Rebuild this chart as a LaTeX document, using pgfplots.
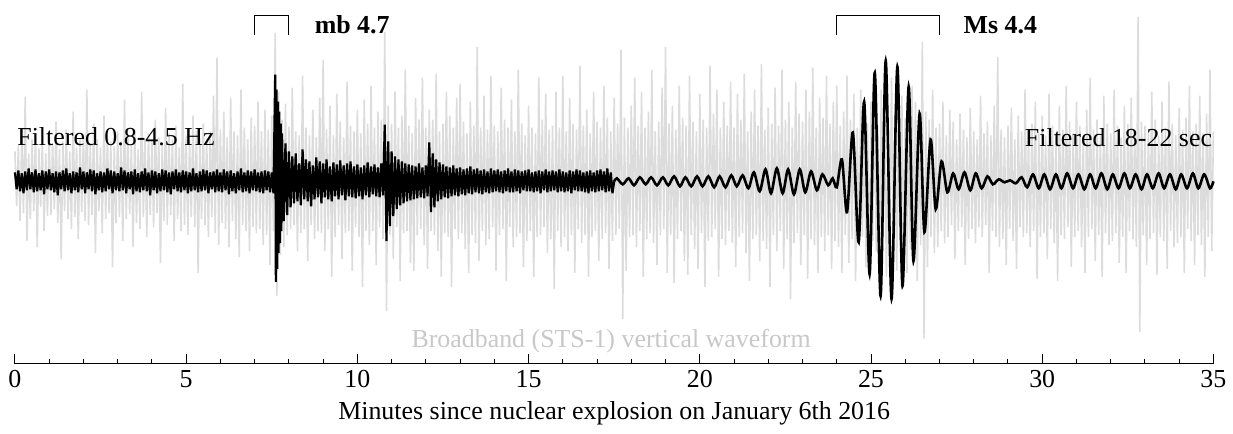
\documentclass[border=0pt]{standalone}
\usepackage{pgfplots}
\pgfplotsset{compat=1.18}
\usepackage{fontspec}
\setmainfont{Liberation Serif}
\definecolor{bbgray}{RGB}{220,220,220}
\definecolor{lblgray}{RGB}{200,200,200}
\begin{document}
\begin{tikzpicture}
\begin{axis}[
  scale only axis,
  width=601.5pt, height=182.5pt,
  xmin=0, xmax=35, ymin=-183, ymax=182,
  axis x line*=bottom, axis y line=none,
  xtick={0,5,...,35}, minor x tick num=4,
  tick align=inside,
  major tick length=5pt, minor tick length=2.3pt,
  tick style={black, line width=0.5pt},
  axis line style={line width=0.6pt},
  /pgf/number format/assume math mode=true,
  ticklabel style={font=\fontsize{13}{15}\selectfont},
  xlabel={Minutes since nuclear explosion on January 6th 2016},
  label style={font=\fontsize{13}{15}\selectfont},
  clip=false,
]
% broadband (STS-1) trace, light gray
\addplot [bbgray, line width=0.8pt, line join=bevel] coordinates {
(0,30)(0.05,-25)(0.1,36)(0.15,-40)(0.2,45)(0.25,-32)(0.3,85)(0.35,-60)(0.4,28)(0.45,-38)(0.5,42)(0.55,-30)(0.6,48)(0.65,-66)(0.7,33)(0.75,-26)(0.8,40)(0.85,-50)(0.9,28)(0.95,-35)
(1,44)(1.05,-34)(1.1,38)(1.15,-28)(1.2,60)(1.25,-42)(1.3,32)(1.35,-78)(1.4,40)(1.45,-30)(1.5,52)(1.55,-38)(1.6,30)(1.65,-48)(1.7,70)(1.75,-36)(1.8,34)(1.85,-58)(1.9,42)(1.95,-31)
(2,46)(2.05,-40)(2.1,92)(2.15,-44)(2.2,36)(2.25,-34)(2.3,58)(2.35,-72)(2.4,42)(2.45,-30)(2.5,34)(2.55,-52)(2.6,66)(2.65,-38)(2.7,46)(2.75,-32)(2.8,40)(2.85,-86)(2.9,35)(2.95,-42)
(3,50)(3.05,-36)(3.1,40)(3.15,-60)(3.2,82)(3.25,-38)(3.3,44)(3.35,-33)(3.4,36)(3.45,-66)(3.5,52)(3.55,-42)(3.6,32)(3.65,-48)(3.7,90)(3.75,-36)(3.8,42)(3.85,-56)(3.9,48)(3.95,-34)
(4,40)(4.05,-46)(4.1,62)(4.15,-32)(4.2,44)(4.25,-82)(4.3,36)(4.35,-40)(4.4,74)(4.45,-44)(4.5,48)(4.55,-34)(4.6,42)(4.65,-60)(4.7,56)(4.75,-38)(4.8,34)(4.85,-50)(4.9,98)(4.95,-44)
(5,46)(5.05,-54)(5.1,40)(5.15,-36)(5.2,66)(5.25,-46)(5.3,50)(5.35,-92)(5.4,42)(5.45,-38)(5.5,58)(5.55,-44)(5.6,42)(5.65,-56)(5.7,50)(5.75,-36)(5.8,86)(5.85,-52)(5.9,124)(5.95,-64)
(6,52)(6.05,-42)(6.1,70)(6.15,-48)(6.2,44)(6.25,-66)(6.3,84)(6.35,-40)(6.4,50)(6.45,-58)(6.5,46)(6.55,-76)(6.6,92)(6.65,-44)(6.7,54)(6.75,-50)(6.8,42)(6.85,-70)(6.9,64)(6.95,-46)
(7,56)(7.05,-52)(7.1,80)(7.15,-48)(7.2,50)(7.25,-64)(7.3,72)(7.35,-54)(7.4,52)(7.45,-84)(7.5,66)(7.55,-50)(7.6,149)(7.65,-115)(7.7,90)(7.75,-74)(7.8,62)(7.85,-66)(7.9,78)(7.95,-54)
(8,55)(8.05,-48)(8.1,94)(8.15,-44)(8.2,50)(8.25,-70)(8.3,46)(8.35,-52)(8.4,106)(8.45,-48)(8.5,54)(8.55,-80)(8.6,46)(8.65,-44)(8.7,72)(8.75,-58)(8.8,44)(8.85,-50)(8.9,84)(8.95,-52)
(9,122)(9.05,-70)(9.1,52)(9.15,-48)(9.2,76)(9.25,-96)(9.3,46)(9.35,-56)(9.4,88)(9.45,-44)(9.5,60)(9.55,-78)(9.6,44)(9.65,-52)(9.7,100)(9.75,-50)(9.8,56)(9.85,-90)(9.9,50)(9.95,-46)
(10,72)(10.05,-56)(10.1,48)(10.15,-106)(10.2,82)(10.25,-50)(10.3,58)(10.35,-64)(10.4,96)(10.45,-50)(10.5,54)(10.55,-84)(10.6,70)(10.65,-46)(10.7,62)(10.75,-58)(10.8,150)(10.85,-130)(10.9,76)(10.95,-54)
(11,58)(11.05,-78)(11.1,90)(11.15,-46)(11.2,54)(11.25,-100)(11.3,66)(11.35,-52)(11.4,112)(11.45,-50)(11.5,56)(11.55,-82)(11.6,48)(11.65,-90)(11.7,84)(11.75,-54)(11.8,62)(11.85,-48)(11.9,104)(11.95,-64)
(12,54)(12.05,-88)(12.1,72)(12.15,-50)(12.2,62)(12.25,-54)(12.3,108)(12.35,-70)(12.4,50)(12.45,-96)(12.5,58)(12.55,-52)(12.6,90)(12.65,-56)(12.7,66)(12.75,-106)(12.8,54)(12.85,-48)(12.9,84)(12.95,-58)
(13,98)(13.05,-52)(13.1,60)(13.15,-68)(13.2,48)(13.25,-92)(13.3,80)(13.35,-54)(13.4,56)(13.45,-62)(13.5,135)(13.55,-80)(13.6,54)(13.65,-50)(13.7,86)(13.75,-64)(13.8,52)(13.85,-58)(13.9,106)(13.95,-46)
(14,56)(14.05,-90)(14.1,50)(14.15,-54)(14.2,94)(14.25,-48)(14.3,62)(14.35,-100)(14.4,54)(14.45,-46)(14.5,82)(14.55,-66)(14.6,50)(14.65,-56)(14.7,112)(14.75,-52)(14.8,58)(14.85,-86)(14.9,46)(14.95,-60)
(15,76)(15.05,-50)(15.1,54)(15.15,-96)(15.2,48)(15.25,-56)(15.3,104)(15.35,-54)(15.4,62)(15.45,-46)(15.5,88)(15.55,-72)(15.6,52)(15.65,-58)(15.7,56)(15.75,-108)(15.8,90)(15.85,-50)(15.9,54)(15.95,-66)
(16,106)(16.05,-56)(16.1,50)(16.15,-70)(16.2,84)(16.25,-54)(16.3,58)(16.35,-92)(16.4,52)(16.45,-48)(16.5,116)(16.55,-62)(16.6,56)(16.65,-54)(16.7,72)(16.75,-96)(16.8,48)(16.85,-56)(16.9,90)(16.95,-50)
(17,60)(17.05,-80)(17.1,54)(17.15,-58)(17.2,96)(17.25,-52)(17.3,64)(17.35,-88)(17.4,50)(17.45,-60)(17.5,84)(17.55,-54)(17.6,58)(17.65,-48)(17.7,132)(17.75,-138)(17.8,64)(17.85,-90)(17.9,54)(17.95,-56)
(18,76)(18.05,-54)(18.1,104)(18.15,-66)(18.2,56)(18.25,-50)(18.3,90)(18.35,-96)(18.4,54)(18.45,-58)(18.5,70)(18.55,-52)(18.6,112)(18.65,-62)(18.7,50)(18.75,-84)(18.8,60)(18.85,-54)(18.9,94)(18.95,-48)
(19,135)(19.05,-92)(19.1,58)(19.15,-54)(19.2,76)(19.25,-102)(19.3,52)(19.35,-58)(19.4,96)(19.45,-50)(19.5,64)(19.55,-80)(19.6,56)(19.65,-94)(19.7,106)(19.75,-54)(19.8,60)(19.85,-68)(19.9,50)(19.95,-88)
(20,88)(20.05,-52)(20.1,62)(20.15,-106)(20.2,54)(20.25,-60)(20.3,116)(20.35,-56)(20.4,68)(20.45,-48)(20.5,92)(20.55,-96)(20.6,54)(20.65,-58)(20.7,80)(20.75,-64)(20.8,56)(20.85,-50)(20.9,100)(20.95,-62)
(21,54)(21.05,-86)(21.1,88)(21.15,-56)(21.2,62)(21.25,-52)(21.3,108)(21.35,-72)(21.4,50)(21.45,-100)(21.5,70)(21.55,-58)(21.6,92)(21.65,-54)(21.7,56)(21.75,-80)(21.8,118)(21.85,-60)(21.9,52)(21.95,-68)
(22,74)(22.05,-106)(22.1,58)(22.15,-54)(22.2,94)(22.25,-70)(22.3,56)(22.35,-50)(22.4,112)(22.45,-88)(22.5,62)(22.55,-58)(22.6,80)(22.65,-118)(22.7,54)(22.75,-62)(22.8,100)(22.85,-52)(22.9,68)(22.95,-84)
(23,60)(23.05,-54)(23.1,92)(23.15,-98)(23.2,70)(23.25,-58)(23.3,114)(23.35,-64)(23.4,54)(23.45,-92)(23.5,84)(23.55,-56)(23.6,64)(23.65,-70)(23.7,106)(23.75,-54)(23.8,58)(23.85,-88)(23.9,80)(23.95,-60)
(24,96)(24.05,-66)(24.1,56)(24.15,-92)(24.2,70)(24.25,-54)(24.3,106)(24.35,-82)(24.4,62)(24.45,-58)(24.5,88)(24.55,-100)(24.6,54)(24.65,-64)(24.7,92)(24.75,-56)(24.8,72)(24.85,-86)(24.9,58)(24.95,-96)
(25,80)(25.05,-60)(25.1,100)(25.15,-70)(25.2,56)(25.25,-88)(25.3,92)(25.35,-54)(25.4,66)(25.45,-96)(25.5,60)(25.55,-72)(25.6,104)(25.65,-56)(25.7,70)(25.75,-90)(25.8,54)(25.85,-64)(25.9,86)(25.95,-62)
(26,64)(26.05,-92)(26.1,58)(26.15,-68)(26.2,96)(26.25,-60)(26.3,80)(26.35,-100)(26.4,56)(26.45,-64)(26.5,140)(26.55,-158)(26.6,70)(26.65,-86)(26.7,62)(26.75,-56)(26.8,92)(26.85,-72)(26.9,54)(26.95,-66)
(27,58)(27.05,-50)(27.1,80)(27.15,-62)(27.2,46)(27.25,-56)(27.3,72)(27.35,-44)(27.4,60)(27.45,-78)(27.5,42)(27.55,-50)(27.6,68)(27.65,-46)(27.7,52)(27.75,-84)(27.8,44)(27.85,-58)(27.9,74)(27.95,-48)
(28,50)(28.05,-62)(28.1,42)(28.15,-46)(28.2,86)(28.25,-56)(28.3,48)(28.35,-44)(28.4,60)(28.45,-92)(28.5,46)(28.55,-50)(28.6,76)(28.65,-56)(28.7,125)(28.75,-66)(28.8,52)(28.85,-58)(28.9,44)(28.95,-84)
(29,56)(29.05,-48)(29.1,74)(29.15,-60)(29.2,42)(29.25,-88)(29.3,66)(29.35,-46)(29.4,50)(29.45,-56)(29.5,92)(29.55,-52)(29.6,44)(29.65,-66)(29.7,58)(29.75,-50)(29.8,80)(29.85,-98)(29.9,48)(29.95,-56)
(30,66)(30.05,-52)(30.1,46)(30.15,-78)(30.2,88)(30.25,-48)(30.3,56)(30.35,-62)(30.4,44)(30.45,-100)(30.5,76)(30.55,-54)(30.6,52)(30.65,-58)(30.7,96)(30.75,-46)(30.8,60)(30.85,-86)(30.9,48)(30.95,-56)
(31,80)(31.05,-50)(31.1,56)(31.15,-66)(31.2,44)(31.25,-92)(31.3,72)(31.35,-56)(31.4,104)(31.45,-48)(31.5,52)(31.55,-80)(31.6,62)(31.65,-54)(31.7,46)(31.75,-96)(31.8,86)(31.85,-52)(31.9,58)(31.95,-64)
(32,48)(32.05,-60)(32.1,92)(32.15,-52)(32.2,56)(32.25,-82)(32.3,44)(32.35,-56)(32.4,76)(32.45,-92)(32.5,58)(32.55,-50)(32.6,84)(32.65,-58)(32.7,52)(32.75,-66)(32.8,165)(32.85,-151)(32.9,60)(32.95,-54)
(33,56)(33.05,-84)(33.1,48)(33.15,-58)(33.2,90)(33.25,-52)(33.3,62)(33.35,-94)(33.4,46)(33.45,-56)(33.5,80)(33.55,-60)(33.6,54)(33.65,-88)(33.7,100)(33.75,-50)(33.8,58)(33.85,-66)(33.9,46)(33.95,-62)
(34,74)(34.05,-56)(34.1,52)(34.15,-92)(34.2,64)(34.25,-48)(34.3,96)(34.35,-60)(34.4,50)(34.45,-84)(34.5,58)(34.55,-54)(34.6,86)(34.65,-64)(34.7,48)(34.75,-96)(34.8,68)(34.85,-56)(34.9,112)(34.95,-70)
(35,50)
};
% filtered 0.8-4.5 Hz
\addplot [black, line width=1.1pt, line join=bevel] coordinates {
(0,9)(0.05,-8)(0.1,11)(0.15,-10)(0.2,8)(0.25,-12)(0.3,10)(0.35,-9)(0.4,13)(0.45,-8)(0.5,9)(0.55,-11)(0.6,12)(0.65,-10)(0.7,8)(0.75,-9)(0.8,11)(0.85,-13)(0.9,10)(0.95,-8)
(1,12)(1.05,-9)(1.1,8)(1.15,-11)(1.2,10)(1.25,-14)(1.3,9)(1.35,-8)(1.4,11)(1.45,-10)(1.5,13)(1.55,-9)(1.6,8)(1.65,-12)(1.7,10)(1.75,-9)(1.8,9)(1.85,-11)(1.9,14)(1.95,-8)
(2,10)(2.05,-12)(2.1,9)(2.15,-8)(2.2,12)(2.25,-10)(2.3,11)(2.35,-13)(2.4,8)(2.45,-9)(2.5,10)(2.55,-11)(2.6,9)(2.65,-10)(2.7,13)(2.75,-8)(2.8,11)(2.85,-12)(2.9,10)(2.95,-9)
(3,8)(3.05,-10)(3.1,14)(3.15,-9)(3.2,11)(3.25,-12)(3.3,9)(3.35,-8)(3.4,10)(3.45,-13)(3.5,12)(3.55,-10)(3.6,8)(3.65,-11)(3.7,10)(3.75,-9)(3.8,13)(3.85,-10)(3.9,9)(3.95,-14)
(4,11)(4.05,-9)(4.1,10)(4.15,-12)(4.2,8)(4.25,-10)(4.3,12)(4.35,-9)(4.4,11)(4.45,-11)(4.5,9)(4.55,-13)(4.6,10)(4.65,-8)(4.7,12)(4.75,-10)(4.8,9)(4.85,-11)(4.9,11)(4.95,-9)
(5,10)(5.05,-12)(5.1,9)(5.15,-10)(5.2,13)(5.25,-9)(5.3,8)(5.35,-11)(5.4,10)(5.45,-10)(5.5,12)(5.55,-9)(5.6,11)(5.65,-12)(5.7,9)(5.75,-8)(5.8,10)(5.85,-11)(5.9,12)(5.95,-10)
(6,9)(6.05,-11)(6.1,12)(6.15,-9)(6.2,10)(6.25,-13)(6.3,11)(6.35,-10)(6.4,8)(6.45,-12)(6.5,10)(6.55,-9)(6.6,13)(6.65,-11)(6.7,9)(6.75,-10)(6.8,11)(6.85,-12)(6.9,10)(6.95,-9)
(7,12)(7.05,-10)(7.1,9)(7.15,-11)(7.2,10)(7.25,-12)(7.3,11)(7.35,-9)(7.4,10)(7.45,-11)(7.5,9)(7.55,-12)(7.58,60)(7.6,107)(7.62,-101)(7.64,92)(7.66,-88)(7.68,80)(7.7,-72)(7.72,70)(7.74,-62)(7.76,58)(7.78,-50)(7.8,48)(7.85,-40)(7.9,38)(7.95,-34)
(8,30)(8.05,-26)(8.1,25)(8.15,-22)(8.2,28)(8.25,-20)(8.3,18)(8.35,-24)(8.4,32)(8.45,-18)(8.5,22)(8.55,-20)(8.6,20)(8.65,-25)(8.7,16)(8.75,-18)(8.8,24)(8.85,-16)(8.9,20)(8.95,-22)
(9,18)(9.05,-16)(9.1,22)(9.15,-18)(9.2,15)(9.25,-20)(9.3,19)(9.35,-15)(9.4,17)(9.45,-18)(9.5,21)(9.55,-14)(9.6,16)(9.65,-19)(9.7,18)(9.75,-15)(9.8,20)(9.85,-16)(9.9,15)(9.95,-17)
(10,17)(10.05,-15)(10.1,14)(10.15,-18)(10.2,16)(10.25,-14)(10.3,19)(10.35,-16)(10.4,15)(10.45,-13)(10.5,17)(10.55,-15)(10.6,14)(10.65,-16)(10.7,18)(10.75,-14)(10.8,57)(10.85,-60)(10.9,40)(10.95,-45)
(11,30)(11.05,-35)(11.1,25)(11.15,-28)(11.2,22)(11.25,-24)(11.3,20)(11.35,-22)(11.4,18)(11.45,-20)(11.5,17)(11.55,-19)(11.6,16)(11.65,-18)(11.7,15)(11.75,-17)(11.8,18)(11.85,-16)(11.9,14)(11.95,-17)
(12,16)(12.05,-15)(12.1,39)(12.15,-31)(12.2,28)(12.25,-26)(12.3,22)(12.35,-20)(12.4,19)(12.45,-18)(12.5,17)(12.55,-16)(12.6,15)(12.65,-17)(12.7,14)(12.75,-15)(12.8,16)(12.85,-14)(12.9,13)(12.95,-15)
(13,14)(13.05,-13)(13.1,12)(13.15,-14)(13.2,13)(13.25,-12)(13.3,15)(13.35,-13)(13.4,12)(13.45,-11)(13.5,13)(13.55,-12)(13.6,11)(13.65,-13)(13.7,12)(13.75,-11)(13.8,10)(13.85,-12)(13.9,13)(13.95,-11)
(14,11)(14.05,-10)(14.1,12)(14.15,-11)(14.2,10)(14.25,-12)(14.3,11)(14.35,-10)(14.4,13)(14.45,-11)(14.5,10)(14.55,-11)(14.6,12)(14.65,-10)(14.7,11)(14.75,-12)(14.8,10)(14.85,-9)(14.9,11)(14.95,-10)
(15,12)(15.05,-10)(15.1,9)(15.15,-11)(15.2,10)(15.25,-10)(15.3,11)(15.35,-12)(15.4,10)(15.45,-9)(15.5,12)(15.55,-11)(15.6,10)(15.65,-10)(15.7,11)(15.75,-9)(15.8,10)(15.85,-11)(15.9,12)(15.95,-10)
(16,10)(16.05,-11)(16.1,9)(16.15,-10)(16.2,11)(16.25,-12)(16.3,10)(16.35,-9)(16.4,12)(16.45,-10)(16.5,11)(16.55,-10)(16.6,9)(16.65,-11)(16.7,10)(16.75,-12)(16.8,11)(16.85,-10)(16.9,9)(16.95,-11)
(17,11)(17.05,-10)(17.1,12)(17.15,-9)(17.2,10)(17.25,-11)(17.3,13)(17.35,-10)(17.4,9)(17.45,-12)(17.5,0)
};
% filtered 18-22 sec
\addplot [black, line width=1.3pt, smooth] coordinates {
(17.5,0)(17.58,3)(17.75,-3)(17.92,3)(18.08,-4)(18.25,4)(18.42,-3)(18.58,4)(18.75,-4)(18.92,4)(19.08,-4)(19.25,5)(19.42,-5)(19.58,4)(19.75,-5)(19.92,5)
(20.08,-5)(20.25,5)(20.42,-6)(20.58,5)(20.75,-6)(20.92,6)(21.08,-5)(21.25,6)(21.42,-7)(21.58,9)(21.75,-10)(21.92,12)(22.08,-12)(22.25,13)(22.42,-12)(22.58,12)
(22.75,-13)(22.92,12)(23.08,-11)(23.25,10)(23.42,-9)(23.58,7)(23.75,-4)(23.88,3)(24,-6)(24.15,22)(24.3,-31)(24.47,49)(24.64,-61)(24.8,80)(24.96,-93)(25.11,109)
(25.28,-115)(25.43,121)(25.6,-118)(25.77,115)(25.92,-105)(26.1,95)(26.24,-80)(26.42,68)(26.56,-51)(26.74,42)(26.89,-28)(27.06,20)(27.23,-11)(27.4,8)(27.56,-8)(27.73,9)
(27.9,-9)(28.06,8)(28.23,-7)(28.4,5)(28.56,-3)(28.73,2)(28.9,-1)(29.06,1)(29.23,-2)(29.4,4)(29.56,-6)(29.73,7)(29.9,-7)(30.06,7)(30.23,-8)(30.4,7)(30.56,-7)
(30.73,8)(30.9,-7)(31.06,7)(31.23,-8)(31.4,7)(31.56,-7)(31.73,8)(31.9,-8)(32.06,7)(32.23,-7)(32.4,8)(32.56,-7)(32.73,7)(32.9,-8)(33.06,7)(33.23,-7)(33.4,8)
(33.56,-7)(33.73,7)(33.9,-8)(34.06,7)(34.23,-7)(34.4,8)(34.56,-7)(34.73,7)(34.9,-7)(35,0)
};
\draw[black, line width=0.5pt] (axis cs:7,147) -- (axis cs:7,166) -- (axis cs:8,166) -- (axis cs:8,147);
\draw[black, line width=0.5pt] (axis cs:24,147) -- (axis cs:24,166) -- (axis cs:27,166) -- (axis cs:27,147);
\node[anchor=west, font=\fontsize{13}{15}\selectfont\bfseries] at (axis cs:8.55,157) {mb 4.7};
\node[anchor=west, font=\fontsize{13}{15}\selectfont\bfseries] at (axis cs:27.5,157) {Ms 4.4};
\node[anchor=west, font=\fontsize{13}{15}\selectfont, inner sep=0pt] at (axis cs:0.06,45) {Filtered 0.8-4.5 Hz};
\node[anchor=east, font=\fontsize{13}{15}\selectfont, inner sep=0pt] at (axis cs:34.97,44) {Filtered 18-22 sec};
\node[lblgray, font=\fontsize{13}{15}\selectfont] at (axis cs:17.41,-160) {Broadband (STS-1) vertical waveform};
\end{axis}
\path (-7.5pt,-35pt) rectangle (609pt,182.5pt);
\end{tikzpicture}
\end{document}
